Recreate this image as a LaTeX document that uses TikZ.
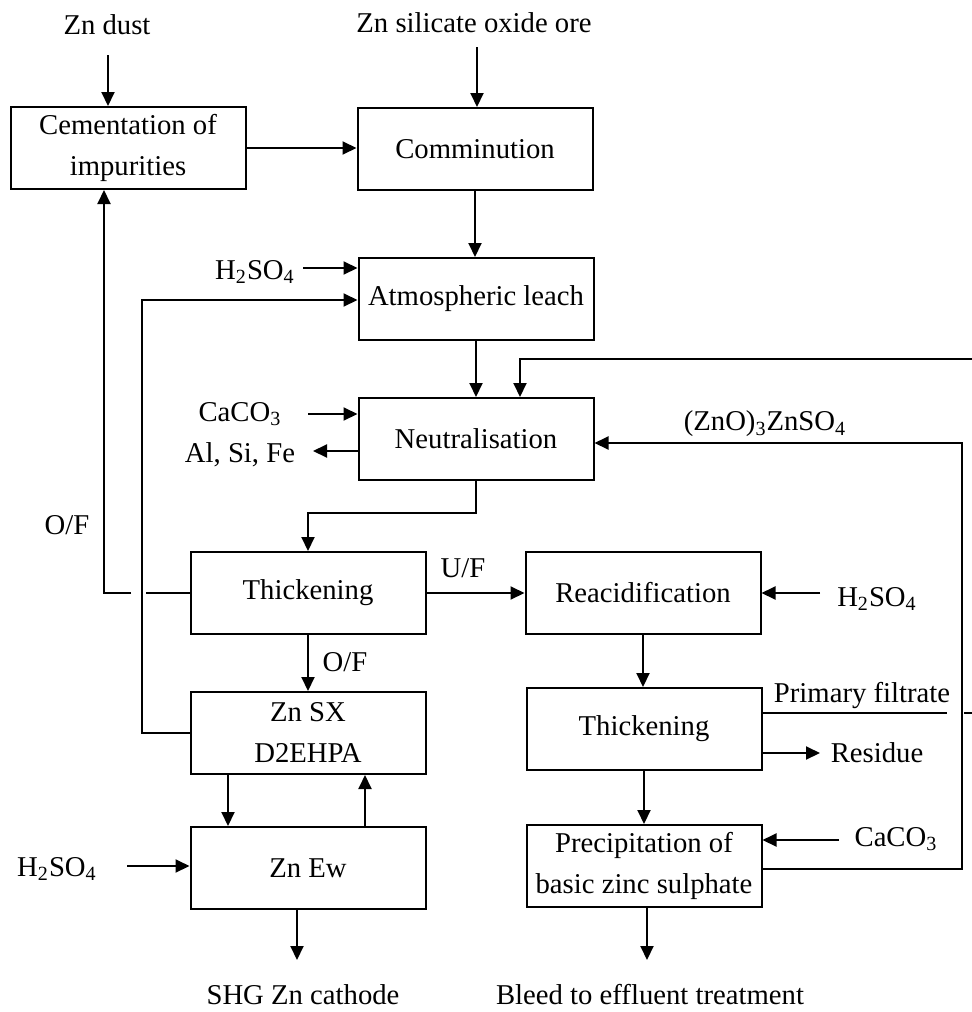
\documentclass[tikz,border=0pt]{standalone}
\usepackage{fontspec}
\setmainfont{Liberation Serif}
\usetikzlibrary{arrows.meta}
\begin{document}
\begin{tikzpicture}[x=0.5pt,y=-0.5pt,
  box/.style={draw,line width=1pt,minimum width=117.5pt,minimum height=41pt,inner sep=0pt,align=center},
  lbl/.style={inner sep=0pt,align=center},
  arr/.style={line width=1pt,-{Triangle[length=7pt,width=6.5pt]}},
  ln/.style={line width=1pt},
  font=\fontsize{14.35}{20.5}\selectfont]
\useasboundingbox (0,0) rectangle (971,1012);
% boxes
\node[box] (cem) at (128,148) {Cementation of\\impurities};
\node[box] (comm) at (475,149) {Comminution};
\node[box] (atm) at (476,299) {Atmospheric leach};
\node[box] (neut) at (476,439) {Neutralisation};
\node[box] (th1) at (308,593) {Thickening};
\node[box] (reac) at (643,593) {Reacidification};
\node[box] (zsx) at (308,733) {Zn SX\\D2EHPA};
\node[box] (zew) at (308,868) {Zn Ew};
\node[box] (th2) at (644,729) {Thickening};
\node[box] (prec) at (644,866) {Precipitation of\\basic zinc sulphate};
% labels
\node[lbl] (zndust) at (107,25) {Zn dust};
\node[lbl] (ore) at (474,23) {Zn silicate oxide ore};
\node[lbl] (h2a) at (255,272) {H\textsubscript{2}SO\textsubscript{4}};
\node[lbl] (caco1) at (240,414) {CaCO\textsubscript{3}};
\node[lbl] (alsife) at (240,455) {Al, Si, Fe};
\node[lbl] (znoso) at (765,424) {(ZnO)\textsubscript{3}ZnSO\textsubscript{4}};
\node[lbl] (of1) at (67,525) {O/F};
\node[lbl] (uf) at (463,568) {U/F};
\node[lbl] (h2b) at (877,599) {H\textsubscript{2}SO\textsubscript{4}};
\node[lbl] (of2) at (345,662) {O/F};
\node[lbl] (pf) at (862,695) {Primary filtrate};
\node[lbl] (res) at (877,753) {Residue};
\node[lbl] (h2c) at (57,869) {H\textsubscript{2}SO\textsubscript{4}};
\node[lbl] (caco2) at (896,839) {CaCO\textsubscript{3}};
\node[lbl] (shg) at (303,995) {SHG Zn cathode};
\node[lbl] (bleed) at (650,995) {Bleed to effluent treatment};
% free ends
\coordinate (zd) at (108,55);
\coordinate (or) at (477,47);
\coordinate (ha) at (303,268);
\coordinate (lx) at (142,300);
\coordinate (gapR) at (146,593);
\coordinate (gapL) at (131,593);
\coordinate (cx) at (104,593);
\coordinate (c1) at (308,414);
\coordinate (a1) at (313,451);
\coordinate (q) at (962,443);
\coordinate (p1) at (962,869);
\coordinate (hb) at (820,593);
\coordinate (pfA) at (947,713);
\coordinate (pfB) at (964,713);
\coordinate (rc) at (976,713);
\coordinate (rt) at (976,359);
\coordinate (rn) at (520,359);
\coordinate (rs) at (820,753);
\coordinate (cc) at (839,840);
\coordinate (d1) at (228,0);
\coordinate (u1) at (365,0);
\coordinate (hc) at (127,866);
\coordinate (s1) at (297,960);
\coordinate (b1) at (647,960);
\coordinate (nb) at (476,513);
% connectors
\draw[arr] (zd) -- (zd |- cem.north);
\draw[arr] (or) -- (or |- comm.north);
\draw[arr] (cem.east) -- (cem.east -| comm.west);
\draw[arr] (comm.south) -- (comm.south |- atm.north);
\draw[arr] (ha) -- (ha -| atm.west);
\draw[arr] (zsx.west) -- (zsx.west -| lx) -- (lx) -- (lx -| atm.west);
\draw[ln] (th1.west) -- (th1.west -| gapR);
\draw[arr] (th1.west -| gapL) -- (th1.west -| cx) -- (cx |- cem.south);
\draw[arr] (atm.south) -- (atm.south |- neut.north);
\draw[arr] (c1) -- (c1 -| neut.west);
\draw[arr] (a1 -| neut.west) -- (a1);
\draw[arr] (p1 -| prec.east) -- (p1) -- (q) -- (q -| neut.east);
\draw[arr] (neut.south) -- (nb) -| (th1.north);
\draw[arr] (th1.east) -- (reac.west);
\draw[arr] (hb) -- (hb -| reac.east);
\draw[arr] (th1.south) -- (zsx.north);
\draw[arr] (reac.south) -- (reac.south |- th2.north);
\draw[ln] (pfA -| th2.east) -- (pfA);
\draw[arr] (pfB) -- (rc) -- (rt) -- (rn) -- (rn |- neut.north);
\draw[arr] (rs -| th2.east) -- (rs);
\draw[arr] (th2.south) -- (prec.north);
\draw[arr] (cc) -- (cc -| prec.east);
\draw[arr] (zsx.south -| d1) -- (zew.north -| d1);
\draw[arr] (zew.north -| u1) -- (zsx.south -| u1);
\draw[arr] (hc) -- (hc -| zew.west);
\draw[arr] (s1 |- zew.south) -- (s1);
\draw[arr] (b1 |- prec.south) -- (b1);
\end{tikzpicture}
\end{document}
